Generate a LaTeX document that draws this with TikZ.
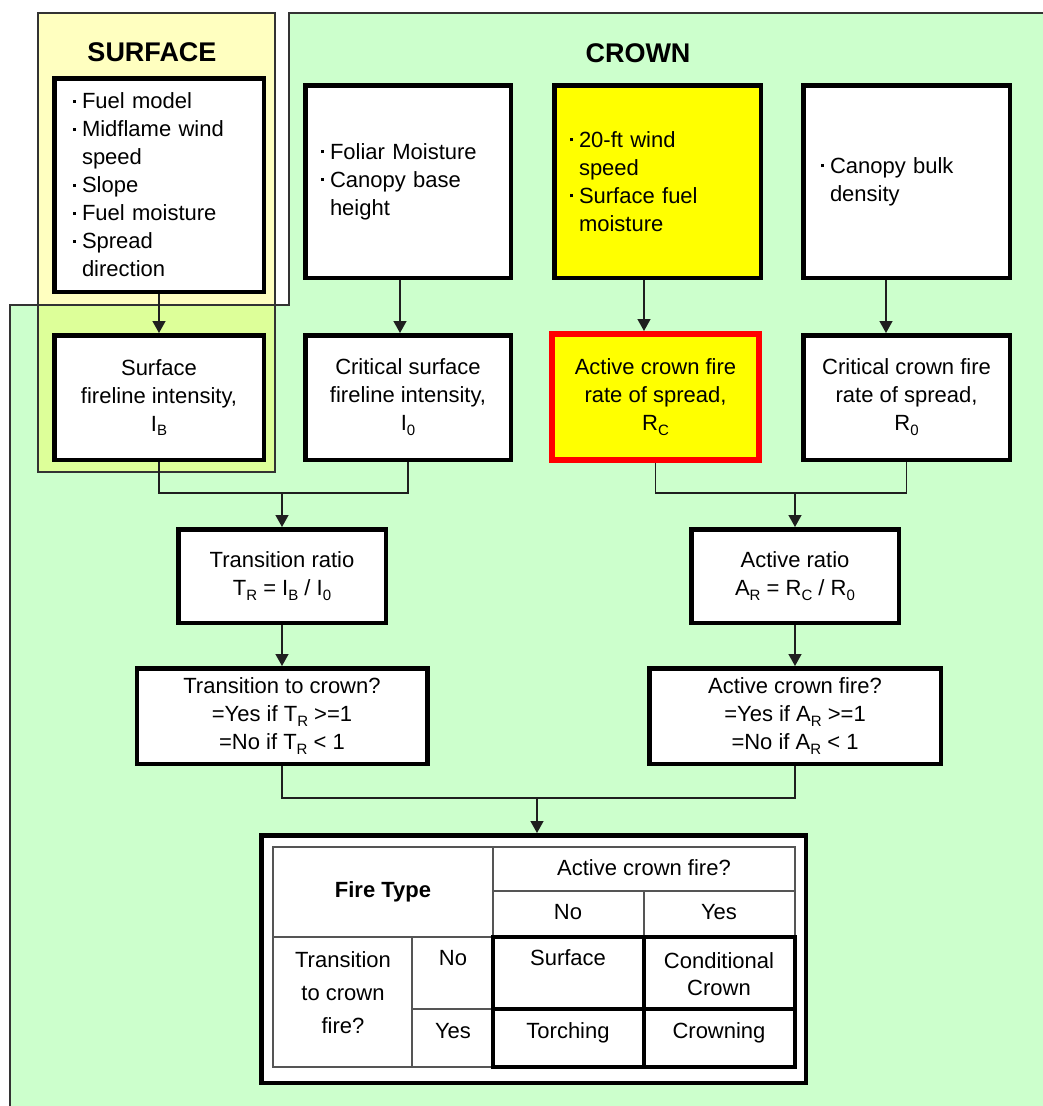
\documentclass[tikz,border=0pt]{standalone}
\usepackage{fontspec}
\setmainfont{Liberation Sans}
\usetikzlibrary{arrows.meta}
\definecolor{bggreen}{HTML}{CCFFCC}
\definecolor{bgyellow}{HTML}{FFFFC0}
\definecolor{bgoverlap}{HTML}{DDFF99}
\definecolor{hiyellow}{HTML}{FFFF00}
\definecolor{edgegray}{HTML}{333333}
\definecolor{cellgray}{HTML}{555555}
\newcommand\fs{\fontsize{22}{28}\selectfont}
\newcommand\sbs[1]{\raisebox{-0.22em}{\fontsize{15}{15}\selectfont #1}}
\newcommand\bul{\makebox[9pt][l]{\raisebox{6pt}{\rule{3.3pt}{3.3pt}}}}
\newcommand\ind{\hspace*{9pt}}
\tikzset{
  region/.style={draw=edgegray, line width=1.3pt},
  box/.style={draw=black, line width=4.5pt, fill=white, inner sep=0pt, align=center, font=\fs},
  listbox/.style={box, align=left},
  redbox/.style={box, draw=red, line width=6pt, fill=hiyellow},
  title/.style={font=\fontsize{27}{32}\selectfont\bfseries, inner sep=0pt},
  conn/.style={draw=black!88, line width=1.4pt},
  arr/.style={conn, -{Triangle[width=13pt,length=12pt]}},
  cell/.style={font=\fs, inner sep=0pt, text height=16pt, text depth=5pt, align=center},
  cellml/.style={inner sep=0pt, align=center},
  thin/.style={draw=cellgray, line width=1.3pt},
  thick/.style={draw=black, line width=3.6pt},
}
\begin{document}
\begin{tikzpicture}[x=1pt,y=-1pt]
\useasboundingbox (0,0) rectangle (1043,1106);
\fill[white] (0,0) rectangle (1043,1106);
% background regions
\fill[bggreen] (289,13) -- (1043,13) -- (1043,1106) -- (10,1106) -- (10,305) -- (289,305) -- cycle;
\fill[bgyellow] (38,13) rectangle (275,305);
\fill[bgoverlap] (38,305) rectangle (275,472);
\draw[region] (1043,13) -- (289,13) -- (289,305) -- (10,305) -- (10,1106);
\draw[region] (38,13) rectangle (275,472);

% titles
\node[title] (tsurf) at (152,52) {SURFACE};
\node[title] (tcrown) at (638,53) {CROWN};

% input boxes
\node[listbox, minimum width=209.5pt, minimum height=213.5pt, text width=172pt] (sin) at (159,185)
  {\bul Fuel model\\\bul Midflame wind\\\ind speed\\\bul Slope\\\bul Fuel moisture\\\bul Spread\\\ind direction};
\node[listbox, minimum width=205.5pt, minimum height=192.5pt, text width=174pt] (fol) at (408,181.5)
  {\bul Foliar Moisture\\\bul Canopy base\\\ind height};
\node[listbox, fill=hiyellow, minimum width=206.5pt, minimum height=192.5pt, text width=175pt] (wind) at (657.5,181.5)
  {\bul 20-ft wind\\\ind speed\\\bul Surface fuel\\\ind moisture};
\node[listbox, minimum width=206.5pt, minimum height=192.5pt, text width=171pt] (cbd) at (906.5,181.5)
  {\bul Canopy bulk\\\ind density};

% second row
\node[box, minimum width=209.5pt, minimum height=124.5pt] (sfi) at (159,397.5)
  {Surface\\fireline intensity,\\I\sbs{B}};
\node[box, minimum width=205.5pt, minimum height=124.5pt] (csfi) at (408,397.5)
  {Critical surface\\fireline intensity,\\I\sbs{0}};
\node[redbox, minimum width=207pt, minimum height=126pt] (acr) at (655.5,397)
  {Active crown fire\\rate of spread,\\R\sbs{C}};
\node[box, minimum width=206.5pt, minimum height=124.5pt] (ccr) at (906.5,397.5)
  {Critical crown fire\\rate of spread,\\R\sbs{0}};

% ratios
\node[box, minimum width=207.5pt, minimum height=93.5pt] (tr) at (282,576)
  {Transition ratio\\T\sbs{R} = I\sbs{B} / I\sbs{0}};
\node[box, minimum width=207.5pt, minimum height=93.5pt] (ar) at (795,576)
  {Active ratio\\A\sbs{R} = R\sbs{C} / R\sbs{0}};

% decisions
\node[box, minimum width=290.5pt, minimum height=95.5pt] (ttc) at (282,716)
  {Transition to crown?\\=Yes if T\sbs{R} >=1\\=No if T\sbs{R} < 1};
\node[box, minimum width=291.5pt, minimum height=95.5pt] (acf) at (795,716)
  {Active crown fire?\\=Yes if A\sbs{R} >=1\\=No if A\sbs{R} < 1};

% result table frame
\node[box, minimum width=544.5pt, minimum height=247.5pt] (tab) at (533.5,959) {};

% connectors
\draw[arr] (sin) -- (sfi);
\draw[arr] (fol.south -| 400,0) -- (csfi.north -| 400,0);
\draw[arr] (wind.south -| 644,0) -- (acr.north -| 644,0);
\draw[arr] (cbd.south -| 886,0) -- (ccr.north -| 886,0);

\coordinate (j1) at (tr.north |- 0,493);
\draw[conn] (sfi.south) |- (j1) -| (csfi.south);
\draw[arr] (j1) -- (tr.north);

\coordinate (j2) at (ar.north |- 0,493);
\draw[conn] (acr.south) |- (j2) -| (ccr.south);
\draw[arr] (j2) -- (ar.north);

\draw[arr] (tr) -- (ttc);
\draw[arr] (ar) -- (acf);

\coordinate (j3) at (537,798);
\draw[conn] (ttc.south) |- (j3) -| (acf.south);
\draw[arr] (j3) -- (j3 |- tab.north);

% table grid
\draw[thin] (273,847) rectangle (795,1067);
\draw[thin] (493,847) -- (493,937);
\draw[thin] (493,891) -- (795,891);
\draw[thin] (644,891) -- (644,937);
\draw[thin] (273,937) -- (795,937);
\draw[thin] (412,937) -- (412,1067);
\draw[thin] (412,1009) -- (493,1009);
\draw[thick] (493,937) rectangle (795,1067);
\draw[thick] (644,937) -- (644,1067);
\draw[thick] (493,1009) -- (795,1009);

% table texts
\node[cell, font=\fontsize{22}{28}\selectfont\bfseries] (ft) at (383,892) {Fire Type};
\node[cell] (acq) at (644,870) {Active crown fire?};
\node[cell] (cno) at (568,914) {No};
\node[cell] (cyes) at (719,914) {Yes};
\node[cellml, font=\fontsize{22}{33}\selectfont] (ttcq) at (343,993) {Transition\\to crown\\fire?};
\node[cell] (rno) at (453,960) {No};
\node[cell] (ryes) at (453,1033) {Yes};
\node[cell] (c11) at (568,960) {Surface};
\node[cellml, font=\fontsize{22}{27}\selectfont] (c12) at (719,974) {Conditional\\Crown};
\node[cell] (c21) at (568,1033) {Torching};
\node[cell] (c22) at (719,1033) {Crowning};
\end{tikzpicture}
\end{document}
